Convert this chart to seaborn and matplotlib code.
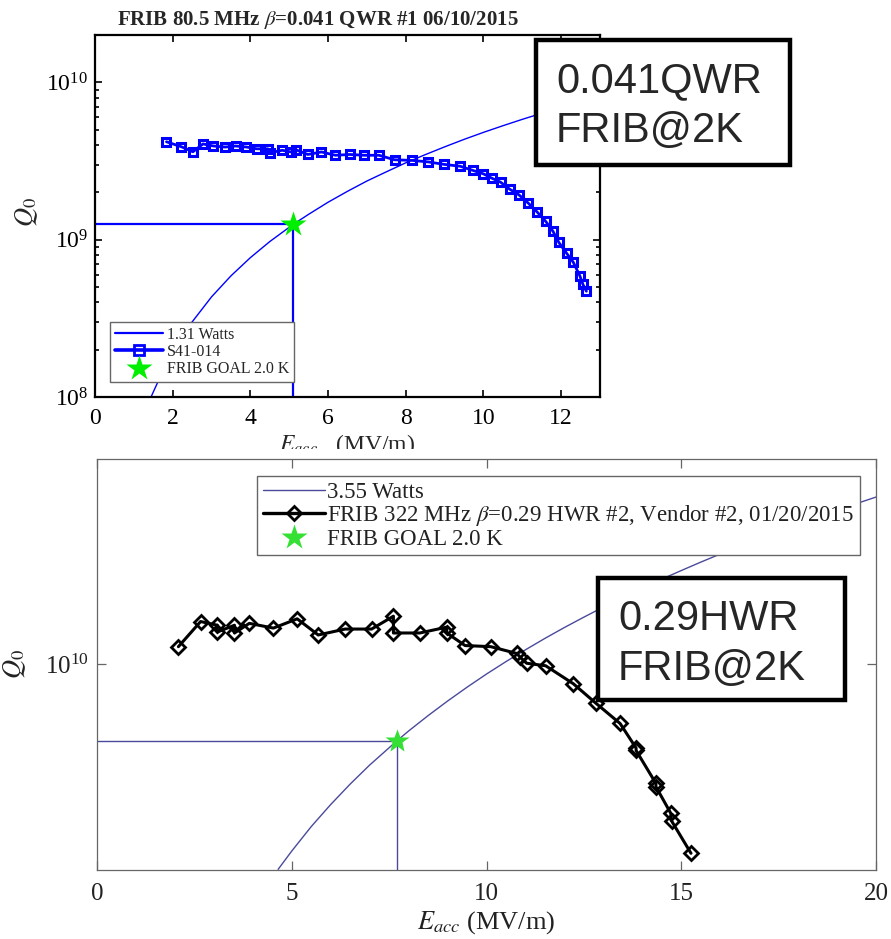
import numpy as np
import pandas as pd
import matplotlib
matplotlib.use("Agg")
import matplotlib.pyplot as plt
import seaborn as sns
from matplotlib.lines import Line2D
from matplotlib.patches import Rectangle
from matplotlib.ticker import LogLocator, FixedLocator, NullLocator, NullFormatter

sns.set_style("ticks")
plt.rcParams["font.family"] = ["Liberation Serif", "DejaVu Serif"]
plt.rcParams["mathtext.fontset"] = "stix"

# ---------------------------------------------------------------------------
# data: beta=0.041 QWR (top panel)
# ---------------------------------------------------------------------------
qwr_e = [1.84, 2.22, 2.52, 2.78, 3.05, 3.35, 3.62, 3.90, 4.17, 4.45, 4.50,
         4.82, 5.05, 5.18, 5.48, 5.83, 6.19, 6.56, 6.93, 7.31, 7.71, 8.17,
         8.58, 8.99, 9.40, 9.72, 10.00, 10.23, 10.44, 10.68, 10.91, 11.14,
         11.37, 11.60, 11.79, 11.94, 12.14, 12.31, 12.48, 12.56, 12.65]
qwr_q = [4.19e9, 3.90e9, 3.62e9, 4.06e9, 3.94e9, 3.88e9, 3.94e9, 3.88e9,
         3.78e9, 3.78e9, 3.57e9, 3.70e9, 3.61e9, 3.72e9, 3.48e9, 3.61e9,
         3.44e9, 3.48e9, 3.44e9, 3.44e9, 3.22e9, 3.19e9, 3.12e9, 3.01e9,
         2.93e9, 2.76e9, 2.62e9, 2.45e9, 2.32e9, 2.09e9, 1.93e9, 1.72e9,
         1.51e9, 1.31e9, 1.13e9, 0.96e9, 0.82e9, 0.72e9, 0.59e9, 0.52e9,
         0.47e9]

# 1.31 W constant-power curve
qwr_pw_e = [1.45, 1.75, 2.0, 2.5, 3.0, 3.5, 4.0, 4.5, 5.1, 5.5, 6.0, 6.5,
            7.0, 7.5, 8.0, 8.5, 9.0, 9.5, 10.0, 10.5, 11.0, 11.5, 12.0,
            12.5, 13.0]
qwr_pw_q = [1.01e8, 1.47e8, 1.92e8, 3.00e8, 4.33e8, 5.89e8, 7.69e8, 9.73e8,
            1.25e9, 1.45e9, 1.73e9, 2.03e9, 2.36e9, 2.70e9, 3.08e9, 3.47e9,
            3.89e9, 4.34e9, 4.81e9, 5.30e9, 5.82e9, 6.36e9, 6.92e9, 7.51e9,
            8.12e9]
qwr_goal_e = 5.1
qwr_goal_q = 1.25e9

# ---------------------------------------------------------------------------
# data: beta=0.29 HWR (bottom panel)
# ---------------------------------------------------------------------------
hwr_e = [2.09, 2.66, 3.09, 3.09, 3.53, 3.53, 3.91, 4.53, 5.14, 5.68, 6.37,
         7.05, 7.61, 7.61, 8.29, 8.98, 8.98, 9.45, 10.11, 10.78, 10.86,
         11.03, 11.52, 12.23, 12.80, 13.43, 13.84, 13.84, 14.35, 14.35,
         14.73, 14.75, 15.25]
hwr_q = [1.15e10, 1.40e10, 1.36e10, 1.29e10, 1.36e10, 1.28e10, 1.38e10,
         1.33e10, 1.43e10, 1.26e10, 1.32e10, 1.32e10, 1.46e10, 1.28e10,
         1.28e10, 1.34e10, 1.28e10, 1.16e10, 1.15e10, 1.09e10, 1.06e10,
         1.01e10, 0.99e10, 8.6e9, 7.4e9, 6.3e9, 5.2e9, 5.1e9, 3.94e9,
         3.84e9, 3.12e9, 2.94e9, 2.28e9]

# 3.55 W constant-power curve
hwr_pw_e = [4.65, 5.0, 5.5, 6.0, 6.5, 7.0, 7.7, 8.0, 8.5, 9.0, 9.5, 10.0,
            10.5, 11.0, 11.5, 12.0, 12.5, 13.0, 13.5, 14.0, 14.5, 15.0,
            15.5, 16.0, 16.5, 17.0, 17.5, 18.0, 18.5, 19.0, 19.5, 20.0]
hwr_pw_q = [2.01e9, 2.32e9, 2.81e9, 3.34e9, 3.92e9, 4.55e9, 5.50e9, 5.94e9,
            6.70e9, 7.51e9, 8.37e9, 9.28e9, 1.023e10, 1.122e10, 1.227e10,
            1.336e10, 1.449e10, 1.568e10, 1.691e10, 1.818e10, 1.951e10,
            2.087e10, 2.229e10, 2.375e10, 2.526e10, 2.681e10, 2.841e10,
            3.006e10, 3.175e10, 3.349e10, 3.527e10, 3.711e10]
hwr_goal_e = 7.7
hwr_goal_q = 5.5e9

qwr = pd.DataFrame({"E": qwr_e, "Q": qwr_q})
hwr = pd.DataFrame({"E": hwr_e, "Q": hwr_q})

BLUE = "#0000ff"
NAVY = "#4a4a9c"
GREEN = "#00ee00"
GREY = "#666666"
INK = "#222222"

W, H = 891, 939
fig = plt.figure(figsize=(W / 100, H / 100), dpi=100)
ax1 = fig.add_axes([95 / W, 1 - 397 / H, 505 / W, 362 / H])
ax2 = fig.add_axes([97 / W, 1 - 870 / H, 779 / W, 411 / H], zorder=2)

# =============================================================================
# TOP PANEL
# =============================================================================
ax1.set_yscale("log")
sns.lineplot(x=qwr_pw_e, y=qwr_pw_q, ax=ax1, color=BLUE, lw=1.0,
             sort=False, estimator=None, legend=False)
ax1.hlines(qwr_goal_q, 0, qwr_goal_e, color=BLUE, lw=1.6)
ax1.vlines(qwr_goal_e, 1e8, qwr_goal_q, color=BLUE, lw=1.6)
sns.lineplot(data=qwr, x="E", y="Q", ax=ax1, color=BLUE, lw=2.0,
             marker="s", markersize=6.0, markerfacecolor="none",
             markeredgecolor=BLUE, markeredgewidth=2.2,
             sort=False, estimator=None, legend=False)
ax1.plot([qwr_goal_e], [qwr_goal_q], marker="*", ms=19, color=GREEN,
         mec="none", ls="none", zorder=5)

ax1.set_xlim(0, 13)
ax1.set_ylim(1e8, 2e10)
ax1.set_xticks(range(0, 13, 2))
ax1.yaxis.set_major_locator(LogLocator(base=10, numticks=10))
ax1.yaxis.set_minor_locator(LogLocator(base=10, subs=np.arange(2, 10), numticks=10))
ax1.yaxis.set_minor_formatter(NullFormatter())
ax1.tick_params(which="both", direction="in", top=True, right=True,
                colors="black", width=1.2)
ax1.tick_params(which="major", length=5, labelsize=17, pad=5)
ax1.tick_params(which="minor", length=3)
ax1.tick_params(axis="x", pad=8)
for s in ax1.spines.values():
    s.set_linewidth(1.6)
    s.set_color("black")

ax1.set_ylabel("$Q_0$", fontsize=19)
ax1.yaxis.set_label_coords(-0.108, 0.51)
ax1.set_xlabel("$E_{acc}$   (MV/m)", fontsize=17)
ax1.xaxis.set_label_coords(0.5, -0.098)

fig.text(318 / W, 1 - 25 / H, "FRIB 80.5 MHz $\\beta$=0.041 QWR #1 06/10/2015",
         ha="center", va="baseline", fontsize=15, fontweight="bold")

h1 = [Line2D([], [], color=BLUE, lw=1.6),
      Line2D([], [], color=BLUE, lw=2.6, marker="s", ms=6.5,
             mfc="none", mec=BLUE, mew=2.0),
      Line2D([], [], color=GREEN, marker="*", ms=19, mec="none", ls="none")]
leg1 = ax1.legend(h1, ["1.31 Watts", "S41-014", "FRIB GOAL 2.0 K"],
                  loc="lower left", bbox_to_anchor=(15 / 505, 15 / 362),
                  borderaxespad=0, fontsize=11.5, handlelength=3.0,
                  handletextpad=0.25, labelspacing=0.08, borderpad=0.3,
                  fancybox=False, framealpha=1, edgecolor=GREY,
                  numpoints=1)
leg1.get_frame().set_linewidth(1.0)

# =============================================================================
# BOTTOM PANEL
# =============================================================================
ax2.set_yscale("log")
sns.lineplot(x=hwr_pw_e, y=hwr_pw_q, ax=ax2, color=NAVY, lw=1.0,
             sort=False, estimator=None, legend=False)
ax2.hlines(hwr_goal_q, 0, hwr_goal_e, color=NAVY, lw=1.0)
ax2.vlines(hwr_goal_e, 2e9, hwr_goal_q, color=NAVY, lw=1.0)
sns.lineplot(data=hwr, x="E", y="Q", ax=ax2, color="black", lw=2.2,
             marker="D", markersize=7.5, markerfacecolor="none",
             markeredgecolor="black", markeredgewidth=2.0,
             sort=False, estimator=None, legend=False)
ax2.plot([hwr_goal_e], [hwr_goal_q], marker="*", ms=18, color="#33e033",
         mec="none", ls="none", zorder=5)

ax2.set_xlim(0, 20)
ax2.set_ylim(2e9, 5e10)
ax2.set_xticks(range(0, 21, 5))
ax2.yaxis.set_major_locator(FixedLocator([1e10]))
ax2.yaxis.set_minor_locator(NullLocator())
ax2.tick_params(which="both", direction="in", top=True, right=True,
                length=6.5, width=0.9, color=GREY, labelcolor=INK,
                labelsize=18)
ax2.tick_params(axis="x", pad=9)
ax2.tick_params(axis="y", pad=6)
for s in ax2.spines.values():
    s.set_linewidth(0.9)
    s.set_color(GREY)

ax2.set_ylabel("$Q_0$", fontsize=19, color=INK)
ax2.yaxis.set_label_coords(-0.088, 0.5)
ax2.set_xlabel("$E_{acc}$ (MV/m)", fontsize=19, color=INK)
ax2.xaxis.set_label_coords(0.5, -0.095)

h2 = [Line2D([], [], color=NAVY, lw=1.0),
      Line2D([], [], color="black", lw=2.4, marker="D", ms=7,
             mfc="none", mec="black", mew=2.0),
      Line2D([], [], color="#33e033", marker="*", ms=19, mec="none", ls="none")]
leg2 = ax2.legend(h2, ["3.55 Watts",
                       "FRIB 322 MHz $\\beta$=0.29 HWR #2, Vendor #2, 01/20/2015",
                       "FRIB GOAL 2.0 K"],
                  loc="upper right", bbox_to_anchor=(763 / 779, 394 / 411),
                  borderaxespad=0, fontsize=16.5, handlelength=2.7,
                  handletextpad=0.1, labelspacing=0.02, borderpad=0.25,
                  fancybox=False, framealpha=1, edgecolor=GREY,
                  numpoints=1)
leg2.get_frame().set_linewidth(1.0)
for t in leg2.get_texts():
    t.set_color(INK)

# white sheet where the lower picture starts (cuts the top x label)
fig.patches.append(Rectangle((0, 0), 1, 1 - 449 / H, transform=fig.transFigure,
                             facecolor="white", edgecolor="none", zorder=1))

# annotation boxes
for (x0, y0, x1, y1), lines, tx in [
        ((536, 40, 790, 165), ["0.041QWR", "FRIB@2K"], (556, 92, 142)),
        ((598, 578, 845, 700), ["0.29HWR", "FRIB@2K"], (618, 630, 680))]:
    fig.patches.append(Rectangle((x0 / W, 1 - y1 / H), (x1 - x0) / W,
                                 (y1 - y0) / H, transform=fig.transFigure,
                                 facecolor="white", edgecolor="black",
                                 lw=3.2, zorder=5))
    for txt, yb in zip(lines, tx[1:]):
        fig.text(tx[0] / W, 1 - yb / H, txt, ha="left", va="baseline",
                 fontsize=30, family=["Liberation Sans", "DejaVu Sans"],
                 zorder=6)

fig.savefig("out.png", dpi=100)
